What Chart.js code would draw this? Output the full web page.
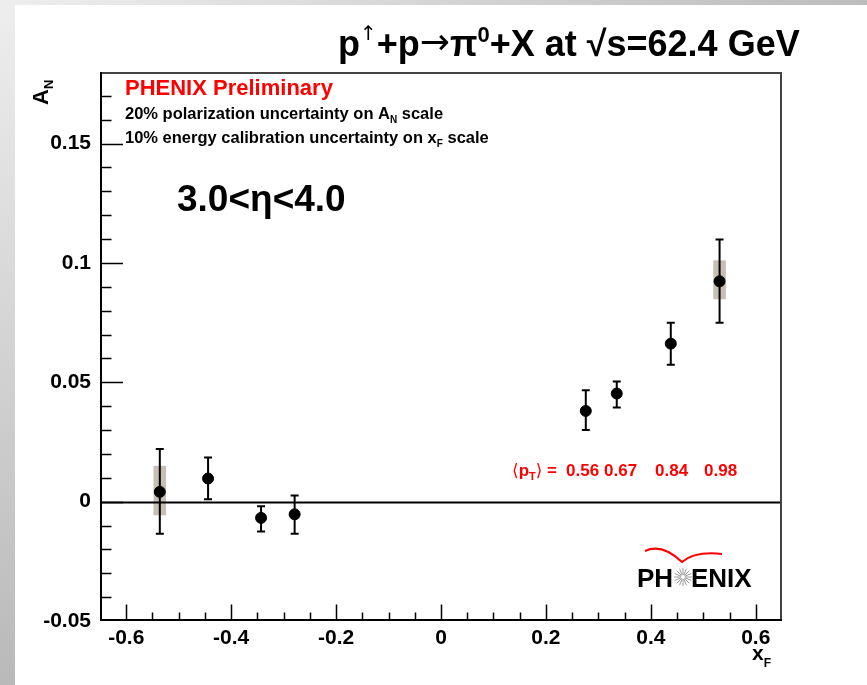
<!DOCTYPE html>
<html>
<head>
<meta charset="utf-8">
<script src="https://cdn.jsdelivr.net/npm/chart.js@4.4.0/dist/chart.umd.min.js"></script>
<style>
  html, body { margin: 0; padding: 0; background: #fff; }
  #wrap { position: relative; width: 867px; height: 685px; overflow: hidden; background: #fff; }
  #edgeLeft { position: absolute; left: 0; top: 0; width: 15px; height: 685px; background: linear-gradient(#eeeeee, #b9b9b9); }
  #edgeTop { position: absolute; left: 0; top: 0; width: 867px; height: 5px; background: linear-gradient(90deg, #eeeeee, #bcbcbc); }
  canvas { position: absolute; left: 0; top: 0; }
</style>
</head>
<body>
<div id="wrap">
  <div id="edgeLeft"></div>
  <div id="edgeTop"></div>
  <canvas id="chart_an" width="867" height="685"></canvas>
</div>
<script>
// A_N vs x_F, 3.0 < eta < 4.0
const xF       = [-0.536, -0.444, -0.343, -0.279, 0.276, 0.335, 0.438, 0.531];
const AN       = [0.0041, 0.0097, -0.0068, -0.0053, 0.0380, 0.0453, 0.0662, 0.0923];
const statLow  = [-0.0134, 0.0010, -0.0125, -0.0134, 0.0300, 0.0394, 0.0574, 0.0749];
const statHigh = [0.0221, 0.0185, -0.0019, 0.0026, 0.0467, 0.0503, 0.0750, 0.1098];
const sysLow   = [-0.0057, null, null, null, null, null, null, 0.0848];
const sysHigh  = [0.0150, null, null, null, null, null, null, 0.1011];
const meanPT   = ['0.56', '0.67', '0.84', '0.98'];

const xTicks = [-0.6, -0.4, -0.2, 0, 0.2, 0.4, 0.6];
const xTickLabels = ['-0.6', '-0.4', '-0.2', '0', '0.2', '0.4', '0.6'];
const yTicks = [-0.05, 0, 0.05, 0.1, 0.15];
const yTickLabels = ['-0.05', '0', '0.05', '0.1', '0.15'];

const FONT = '"Liberation Sans", Arial, Helvetica, sans-serif';
const SYM = '"DejaVu Sans", sans-serif';

function textRuns(ctx, x, y, parts, color) {
    // parts: [text, size, dy, fontOverride]
    let cx = x;
    ctx.fillStyle = color || '#000';
    ctx.textBaseline = 'alphabetic';
    ctx.textAlign = 'left';
    parts.forEach(function(p) {
        ctx.font = p[3] ? (p[1] + 'px ' + p[3]) : ('bold ' + p[1] + 'px ' + FONT);
        ctx.fillText(p[0], cx, y + (p[2] || 0));
        cx += ctx.measureText(p[0]).width;
    });
    return cx;
}

const rootStyle = {
    id: 'rootStyle',
    beforeDatasetsDraw(chart) {
        const ctx = chart.ctx;
        const xs = chart.scales.x, ys = chart.scales.y;
        const area = chart.chartArea;
        ctx.save();
        // systematic boxes
        ctx.fillStyle = '#c9beb2';
        for (let i = 0; i < xF.length; i++) {
            if (sysLow[i] === null) continue;
            const x0 = xs.getPixelForValue(xF[i] - 0.012);
            const x1 = xs.getPixelForValue(xF[i] + 0.012);
            const y0 = ys.getPixelForValue(sysHigh[i]);
            const y1 = ys.getPixelForValue(sysLow[i]);
            ctx.fillRect(x0, y0, x1 - x0, y1 - y0);
        }
        // zero line
        ctx.strokeStyle = '#000';
        ctx.lineWidth = 2;
        const y0 = Math.round(ys.getPixelForValue(0)) + 0.5;
        ctx.beginPath();
        ctx.moveTo(area.left, y0);
        ctx.lineTo(area.right, y0);
        ctx.stroke();
        // statistical error bars
        ctx.lineWidth = 2;
        for (let i = 0; i < xF.length; i++) {
            const px = xs.getPixelForValue(xF[i]);
            const pl = ys.getPixelForValue(statLow[i]);
            const ph = ys.getPixelForValue(statHigh[i]);
            ctx.beginPath();
            ctx.moveTo(px, pl); ctx.lineTo(px, ph);
            ctx.moveTo(px - 4, pl); ctx.lineTo(px + 4, pl);
            ctx.moveTo(px - 4, ph); ctx.lineTo(px + 4, ph);
            ctx.stroke();
        }
        ctx.restore();
    },
    afterDraw(chart) {
        const ctx = chart.ctx;
        const xs = chart.scales.x, ys = chart.scales.y;
        const a = chart.chartArea;
        ctx.save();
        // frame
        ctx.lineWidth = 2;
        ctx.strokeStyle = '#444';
        ctx.beginPath();
        ctx.moveTo(a.left, a.top + 1); ctx.lineTo(a.right - 1, a.top + 1); ctx.lineTo(a.right - 1, a.bottom);
        ctx.stroke();
        ctx.strokeStyle = '#000';
        ctx.beginPath();
        ctx.moveTo(a.left + 1, a.top); ctx.lineTo(a.left + 1, a.bottom - 1); ctx.lineTo(a.right, a.bottom - 1);
        ctx.stroke();
        // ticks (inside, left and bottom only)
        ctx.lineWidth = 1.5;
        ctx.beginPath();
        for (let k = -12; k <= 12; k++) {
            const v = k * 0.05;
            if (v <= xs.min || v >= xs.max) continue;
            const px = Math.round(xs.getPixelForValue(v)) + 0.5;
            const len = (k % 4 === 0) ? 16.5 : 8.5;
            ctx.moveTo(px, a.bottom); ctx.lineTo(px, a.bottom - len);
        }
        for (let k = -4; k <= 17; k++) {
            const v = k * 0.01;
            const py = Math.round(ys.getPixelForValue(v)) + 0.5;
            const len = (k % 5 === 0) ? 23 : 11.5;
            ctx.moveTo(a.left, py); ctx.lineTo(a.left + len, py);
        }
        ctx.stroke();

        // title
        textRuns(ctx, 338, 56, [
            ['p', 36], ['\u2191', 20, -16, SYM], ['+p', 36], ['\u2192', 36, -2, SYM],
            ['\u03c0', 36], ['0', 22, -14], ['+X at \u221as=62.4 GeV', 36]
        ]);
        // axis titles
        ctx.save();
        ctx.translate(48, 105);
        ctx.rotate(-Math.PI / 2);
        textRuns(ctx, 0, 0, [['A', 22], ['N', 13, 5]]);
        ctx.restore();
        textRuns(ctx, 752, 660, [['x', 21], ['F', 12, 7]]);
        // annotations
        textRuns(ctx, 125, 95, [['PHENIX Preliminary', 22]], '#ff0000');
        textRuns(ctx, 125, 119, [['20% polarization uncertainty on A', 16.5], ['N', 10, 4], [' scale', 16.5]]);
        textRuns(ctx, 125, 142.5, [['10% energy calibration uncertainty on x', 16.5], ['F', 10, 4], [' scale', 16.5]]);
        textRuns(ctx, 177, 211, [['3.0<\u03b7<4.0', 37]]);
        // mean pT labels
        let cx = textRuns(ctx, 512, 476, [['\u27e8', 17, 0, SYM], ['p', 17], ['T', 11, 4]], '#ff0000');
        textRuns(ctx, cx, 476, [['\u27e9', 17, 0, SYM], [' = ', 17]], '#ff0000');
        const ptX = [566, 604, 655, 704];
        meanPT.forEach(function(t, i) { textRuns(ctx, ptX[i], 476, [[t, 17]], '#ff0000'); });

        // PHENIX logo
        ctx.strokeStyle = '#ff0000';
        ctx.lineWidth = 2;
        ctx.beginPath();
        ctx.moveTo(645, 551);
        ctx.quadraticCurveTo(662, 543, 682, 562);
        ctx.quadraticCurveTo(695, 551, 722, 554);
        ctx.stroke();
        textRuns(ctx, 637, 587, [['PH', 26]]);
        textRuns(ctx, 691, 587, [['ENIX', 26]]);
        ctx.strokeStyle = '#9a9a9a';
        ctx.lineWidth = 1;
        ctx.beginPath();
        for (let r = 0; r < 16; r++) {
            const ang = r * Math.PI / 8;
            ctx.moveTo(683 + Math.cos(ang) * 2, 577 + Math.sin(ang) * 2);
            ctx.lineTo(683 + Math.cos(ang) * 9, 577 + Math.sin(ang) * 9);
        }
        ctx.stroke();
        ctx.restore();
    }
};

const ctx_an = document.getElementById('chart_an');

const chart_an = new Chart(ctx_an, {
    type: 'scatter',
    data: {
        datasets: [{
            label: 'A_N',
            data: xF.map(function(x, i) { return { x: x, y: AN[i] }; }),
            backgroundColor: '#000',
            borderColor: '#000',
            pointRadius: 5.5,
            pointHoverRadius: 5.5
        }]
    },
    options: {
        responsive: false,
        animation: false,
        layout: { padding: { left: 0, right: 85, top: 72, bottom: 0 } },
        plugins: {
            legend: { display: false },
            tooltip: { enabled: false }
        },
        scales: {
            x: {
                type: 'linear',
                min: -0.65,
                max: 0.65,
                afterFit: function(s) { s.height = 64; },
                afterBuildTicks: function(s) { s.ticks = xTicks.map(function(v) { return { value: v }; }); },
                grid: { display: false, drawTicks: false },
                border: { display: false },
                ticks: {
                    padding: 5,
                    color: '#000',
                    font: { family: FONT, size: 21, weight: 'bold' },
                    callback: function(v) { return xTickLabels[xTicks.indexOf(v)]; }
                }
            },
            y: {
                type: 'linear',
                min: -0.05,
                max: 0.18,
                afterFit: function(s) { s.width = 100; },
                afterBuildTicks: function(s) { s.ticks = yTicks.map(function(v) { return { value: v }; }); },
                grid: { display: false, drawTicks: false },
                border: { display: false },
                ticks: {
                    padding: 9,
                    color: '#000',
                    font: { family: FONT, size: 21, weight: 'bold' },
                    callback: function(v) { return yTickLabels[yTicks.indexOf(v)]; }
                }
            }
        }
    },
    plugins: [rootStyle]
});
</script>
</body>
</html>
